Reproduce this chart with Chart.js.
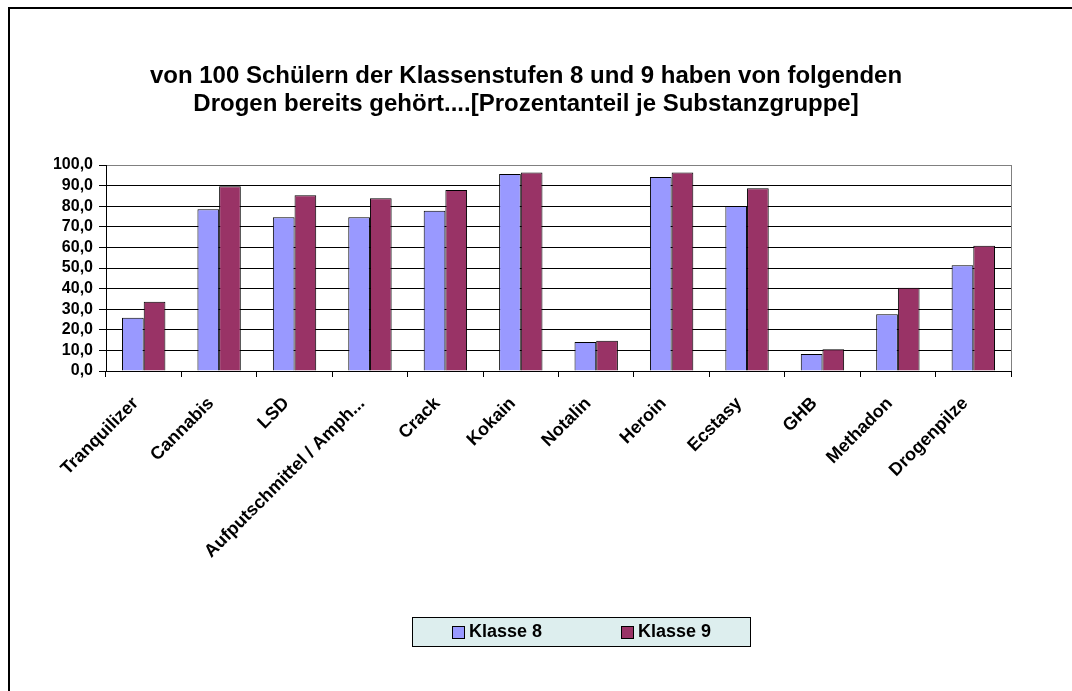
<!DOCTYPE html>
<html>
<head>
<meta charset="utf-8">
<script src="https://cdn.jsdelivr.net/npm/chart.js@4"></script>
<style>
  html, body { margin: 0; padding: 0; background: #fff; }
  #chart { display: block; }
</style>
</head>
<body>
<canvas id="chart" width="1072" height="691"></canvas>
<script>
const categories = ['Tranquilizer', 'Cannabis', 'LSD', 'Aufputschmittel / Amph...', 'Crack', 'Kokain', 'Notalin', 'Heroin', 'Ecstasy', 'GHB', 'Methadon', 'Drogenpilze'];
const klasse8 = [25.9, 78.5, 74.6, 74.6, 77.8, 95.6, 14.1, 94.2, 80.1, 8.3, 27.5, 51.3];
const klasse9 = [33.6, 89.7, 85.3, 83.8, 87.9, 96.4, 14.7, 96.4, 88.7, 10.5, 40.4, 60.8];
const seriesNames = ['Klasse 8', 'Klasse 9'];
const seriesColors = ['#9999FF', '#993366'];
const titleLines = ['von 100 Schülern der Klassenstufen 8 und 9 haben von folgenden', 'Drogen bereits gehört....[Prozentanteil je Substanzgruppe]'];

const FONT = 'Arial, "Liberation Sans", sans-serif';

// Rahmen, Plotbegrenzung und Legende im Excel-Stil
const excelLook = {
    id: 'excelLook',
    beforeDatasetsDraw: (chart) => {
        const ctx = chart.ctx;
        const a = chart.chartArea;
        ctx.save();
        ctx.strokeStyle = '#808080';
        ctx.lineWidth = 1;
        ctx.beginPath();
        ctx.moveTo(a.right + 0.5, a.top);
        ctx.lineTo(a.right + 0.5, a.bottom);
        ctx.stroke();
        ctx.restore();
    },
    afterDraw: (chart) => {
        const ctx = chart.ctx;
        ctx.save();
        // äußerer Rahmen
        ctx.strokeStyle = '#000';
        ctx.lineWidth = 2;
        ctx.beginPath();
        ctx.moveTo(9, chart.height);
        ctx.lineTo(9, 8);
        ctx.lineTo(chart.width, 8);
        ctx.stroke();

        // Legende
        const box = { x: 412, y: 617, w: 338, h: 29 };
        ctx.fillStyle = '#DDEEEE';
        ctx.fillRect(box.x, box.y, box.w, box.h);
        ctx.strokeStyle = '#000';
        ctx.lineWidth = 1;
        ctx.strokeRect(box.x + 0.5, box.y + 0.5, box.w, box.h);

        ctx.font = 'bold 18px ' + FONT;
        ctx.textBaseline = 'middle';
        ctx.textAlign = 'left';
        const itemX = [452, 621];
        chart.data.datasets.forEach((ds, i) => {
            const x = itemX[i];
            const cy = box.y + box.h / 2 + 1;
            ctx.fillStyle = ds.backgroundColor;
            ctx.fillRect(x, cy - 6.5, 13, 13);
            ctx.strokeStyle = '#000';
            ctx.strokeRect(x + 0.5, cy - 6.5 + 0.5, 12, 12);
            ctx.fillStyle = '#000';
            ctx.fillText(ds.label, x + 17, cy);
        });
        ctx.restore();
    }
};

new Chart(document.getElementById('chart').getContext('2d'), {
    type: 'bar',
    data: {
        labels: categories,
        datasets: [
            { label: seriesNames[0], data: klasse8, backgroundColor: seriesColors[0], borderColor: '#000', borderWidth: 1 },
            { label: seriesNames[1], data: klasse9, backgroundColor: seriesColors[1], borderColor: '#000', borderWidth: 1 }
        ]
    },
    options: {
        responsive: false,
        animation: false,
        devicePixelRatio: 1,
        datasets: {
            bar: { categoryPercentage: 0.575, barPercentage: 1.0 }
        },
        layout: { padding: { left: 41, right: 61, top: 0, bottom: 0 } },
        scales: {
            x: {
                grid: {
                    offset: true,
                    drawOnChartArea: false,
                    tickLength: 6,
                    tickColor: '#000'
                },
                border: { color: '#000' },
                ticks: {
                    maxRotation: 45,
                    minRotation: 45,
                    autoSkip: false,
                    padding: 16,
                    labelOffset: -8,
                    color: '#000',
                    font: { family: FONT, size: 18, weight: 'bold' }
                },
                afterFit: (scale) => { scale.height = 320; }
            },
            y: {
                min: 0,
                max: 100,
                grid: {
                    color: (c) => (c.tick && c.tick.value === 100 ? '#808080' : '#000'),
                    tickColor: '#000',
                    tickLength: 7
                },
                border: { color: '#000' },
                ticks: {
                    stepSize: 10,
                    autoSkip: false,
                    padding: 6,
                    color: '#000',
                    font: { family: FONT, size: 16, weight: 'bold' },
                    callback: (value) => value.toFixed(1).replace('.', ',')
                },
                afterFit: (scale) => { scale.width = 65; }
            }
        },
        plugins: {
            legend: { display: false },
            tooltip: { enabled: false },
            title: {
                display: true,
                text: titleLines,
                color: '#000',
                font: { family: FONT, size: 24, weight: 'bold', lineHeight: 28 / 24 },
                padding: { top: 62, bottom: 47 }
            }
        }
    },
    plugins: [excelLook]
});
</script>
</body>
</html>
